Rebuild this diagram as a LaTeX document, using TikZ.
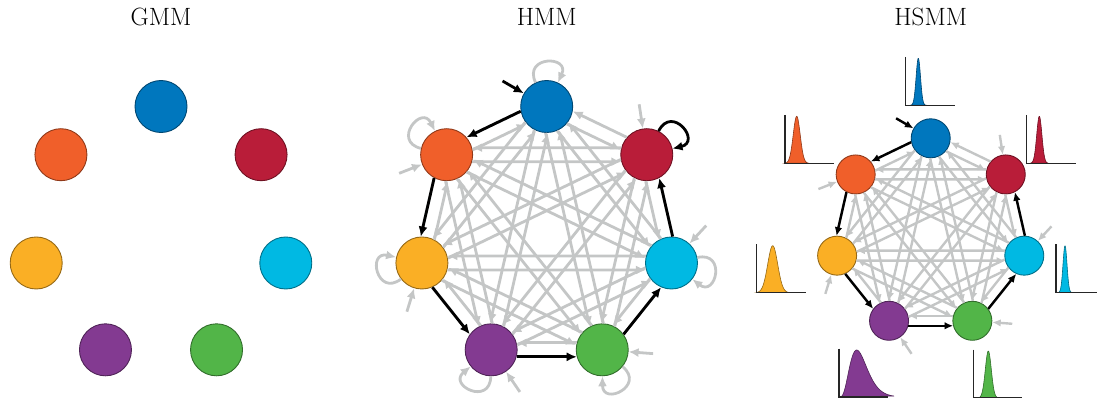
\documentclass[tikz,border=0pt]{standalone}
\usetikzlibrary{arrows.meta,calc}
\definecolor{cblue}{RGB}{0,119,190}
\definecolor{corange}{RGB}{240,95,42}
\definecolor{cred}{RGB}{185,29,57}
\definecolor{cyellow}{RGB}{250,175,37}
\definecolor{ccyan}{RGB}{0,185,227}
\definecolor{cpurple}{RGB}{131,58,145}
\definecolor{cgreen}{RGB}{82,181,72}
\definecolor{egray}{RGB}{196,198,198}
\tikzset{
 state/.style={circle,draw=#1!60!black,fill=#1,line width=0.9pt,inner sep=0pt,minimum size=52pt},
 sstate/.style={state=#1,minimum size=39pt},
 tipL/.style={-{Latex[length=10pt,width=9pt]}},
 tipS/.style={-{Latex[length=8.5pt,width=7.5pt]}},
 gl/.style={draw=egray,line width=2.8pt,tipL},
 bl/.style={draw=black,line width=2.8pt,tipL},
 sgl/.style={draw=egray,line width=2.4pt,tipS},
 sbl/.style={draw=black,line width=2.4pt,tipS},
 hedge/.style={shorten <=25.5pt,shorten >=25.5pt},
 sedge/.style={shorten <=19.3pt,shorten >=19.3pt},
 axisline/.style={draw=black!85,line width=1.2pt},
 title/.style={font=\fontsize{25}{28}\selectfont,anchor=base,inner sep=0pt}
}
% x0, y0, mu, sigma, colour, lo, hi
\newcommand\durdist[7]{%
  \draw[draw=#5!60!black,fill=#5,line width=0.6pt] plot[domain=#6:#7,samples=50,smooth] ({#1+\x},{#2+47*exp(-((\x-#3)^2)/(2*#4*#4))}) -- cycle;
  \draw[axisline] (#1,#2+48.5) -- (#1,#2) -- (#1+49,#2);
}
\begin{document}
\begin{tikzpicture}[x=1pt,y=1pt]
\useasboundingbox (0,0) rectangle (1097,397);
\clip (0,0) rectangle (1097,397);

% titles
\node[title] (tg) at (161,371.3) {GMM};
\node[title] (th) at (546.7,371.3) {HMM};
\node[title] (ts) at (930.7,371.3) {HSMM};

% states
\foreach \c [count=\k from 0] in {cblue,corange,cyellow,cpurple,cgreen,ccyan,cred}{
  \pgfmathsetmacro\th{90+\k*360/7}
  \node[state=\c] (g\k) at ($(161,162.5)+(\th:128)$) {};
  \node[state=\c] (h\k) at ($(546.7,162.5)+(\th:128)$) {};
  \node[sstate=\c] (s\k) at ($(930.7,162.7)+(\th:96)$) {};
}

% all transitions (grey)
\foreach \i in {0,...,6}{\foreach \j in {0,...,6}{\ifnum\i=\j\else
  \draw[gl,hedge] ($(h\i)!7pt!-90:(h\j)$) -- ($(h\j)!7pt!90:(h\i)$);
  \draw[sgl,sedge] ($(s\i)!5pt!-90:(s\j)$) -- ($(s\j)!5pt!90:(s\i)$);
\fi}}

% highlighted path (black)
\foreach \i/\j in {0/1,1/2,2/3,3/4,4/5,5/6}{
  \draw[bl,hedge] ($(h\i)!7pt!-90:(h\j)$) -- ($(h\j)!7pt!90:(h\i)$);
  \draw[sbl,sedge] ($(s\i)!5pt!-90:(s\j)$) -- ($(s\j)!5pt!90:(s\i)$);
}

% self loops (HMM)
\foreach \k in {0,...,6}{
  \pgfmathsetmacro\lo{90+\k*360/7+25}
  \pgfmathsetmacro\li{90+\k*360/7-25}
  \ifnum\k=6
    \draw[bl] (h\k) to[out=\lo,in=\li,distance=30pt] (h\k);
  \else
    \draw[gl] (h\k) to[out=\lo,in=\li,distance=30pt] (h\k);
  \fi
}

% initial-state arrows
\foreach \k in {0,...,6}{
  \pgfmathsetmacro\ea{90+\k*360/7+60}
  \coordinate (hi\k) at ($(h\k)+(\ea:51)$);
  \coordinate (si\k) at ($(s\k)+(\ea:40)$);
  \ifnum\k=0
    \draw[bl] (hi\k) -- (h\k);
    \draw[sbl] (si\k) -- (s\k);
  \else
    \draw[gl] (hi\k) -- (h\k);
    \draw[sgl] (si\k) -- (s\k);
  \fi
}

% duration distributions (HSMM)
\durdist{905.7}{291.7}{12.6}{2.2}{cblue}{4.9}{20.3}
\durdist{785}{233.7}{11.7}{3.5}{corange}{0}{24}
\durdist{1026.7}{233.7}{12.6}{2.6}{cred}{3.5}{21.7}
\durdist{756.7}{104.3}{16}{5}{cyellow}{0}{33}
\durdist{1056}{104.3}{9}{2}{ccyan}{2}{16}
\durdist{973.3}{-1}{15}{3}{cgreen}{4.5}{25.5}
\draw[draw=cpurple!60!black,fill=cpurple,line width=0.6pt] plot[domain=0.01:55,samples=60,smooth] ({839+\x},{47*(\x/17.7)^4*exp(-4*(\x/17.7-1))}) -- cycle;
\draw[axisline] (839,48.5) -- (839,0) -- (888,0);
\end{tikzpicture}
\end{document}
